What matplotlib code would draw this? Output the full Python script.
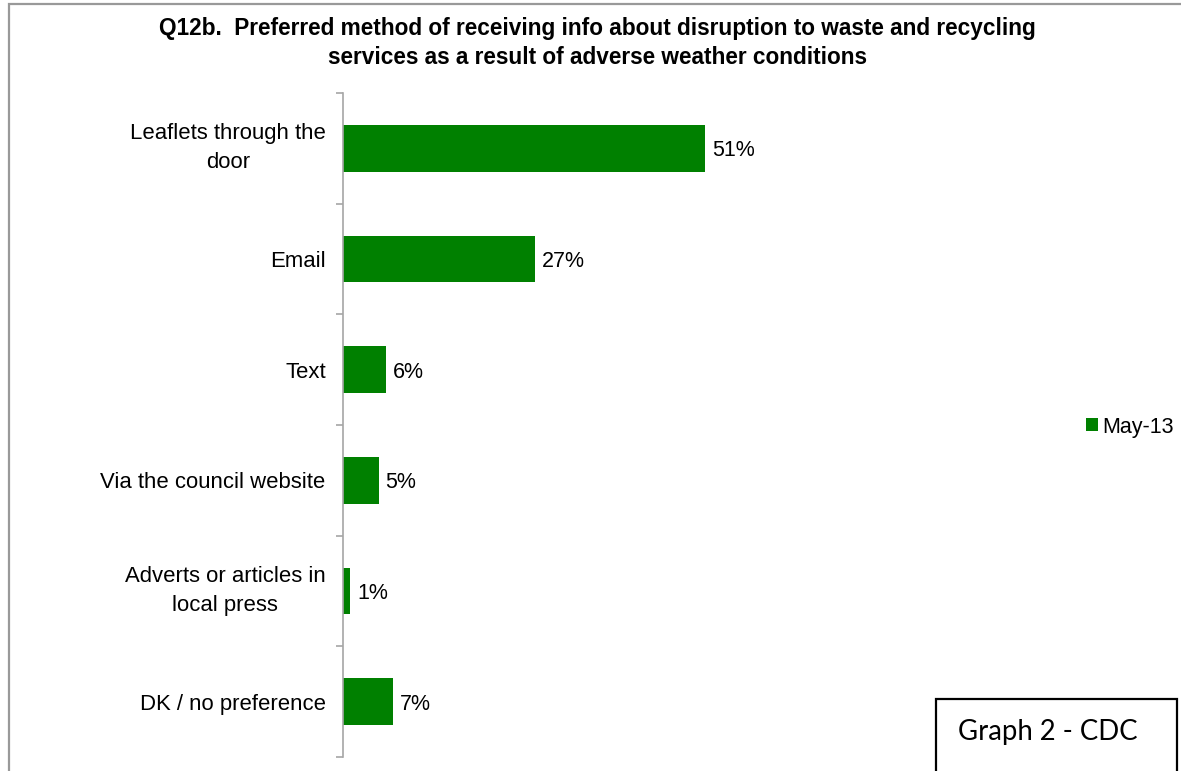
import matplotlib
matplotlib.use("Agg")
import matplotlib.pyplot as plt
from matplotlib.patches import Rectangle

categories = ["Leaflets through the\ndoor", "Email", "Text", "Via the council website",
              "Adverts or articles in\nlocal press", "DK / no preference"]
values = [51, 27, 6, 5, 1, 7]
series_name = "May-13"
title = "Q12b.  Preferred method of receiving info about disruption to waste and recycling\nservices as a result of adverse weather conditions"

W, H = 1181, 771
fig = plt.figure(figsize=(W / 100, H / 100), dpi=100)
plt.rcParams['font.family'] = ['Liberation Sans', 'DejaVu Sans']

green = "#008000"
grey = "#a6a6a6"

ax = fig.add_axes([343 / W, 1 - 757 / H, (1053 - 343) / W, (757 - 93) / H])
y = list(range(len(categories)))
bars = ax.barh(y, values, height=0.42, color=green, label=series_name)
ax.set_xlim(0, 100)
ax.set_ylim(len(categories) - 0.5, -0.5)

for spine in ["top", "right", "bottom"]:
    ax.spines[spine].set_visible(False)
ax.spines["left"].set_color(grey)
ax.spines["left"].set_linewidth(1.2)
ax.set_xticks([])
ax.set_yticks(y)
ax.set_yticklabels(categories, fontsize=15.9, ha="right", multialignment="center", linespacing=1.5)
for lbl in ax.get_yticklabels():
    if "\n" in lbl.get_text():
        lbl.set_va("center")
ax.tick_params(axis="y", which="major", length=0, pad=12.5)
ax.set_yticks([i - 0.5 for i in range(len(categories) + 1)], minor=True)
ax.tick_params(axis="y", which="minor", length=5, width=1.2, color=grey, direction="out")

for b, v in zip(bars, values):
    ax.text(b.get_width() + 1, b.get_y() + b.get_height() / 2, f"{v}%",
            va="center_baseline", ha="left", fontsize=15.5)

fig.text(597 / W, 1 - 43 / H, title, ha="center", va="center", fontsize=16.3,
         fontweight="bold", linespacing=1.3)

leg = fig.legend(handles=[bars], labels=[series_name], loc="center left",
                 bbox_to_anchor=(1075 / W, 1 - 427 / H), frameon=False, fontsize=15.5,
                 handlelength=0.55, handleheight=0.55, handletextpad=0.2, borderpad=0)

# figure border (left/top visible)
fig.patches.append(Rectangle((8.5 / W, -0.1), 2, 1.1 - 4.5 / H, transform=fig.transFigure,
                             fill=False, edgecolor="#999999", linewidth=1.6))
# Graph label box
fig.patches.append(Rectangle((936 / W, -0.1), (1177 - 936) / W, 0.1 + (771 - 699) / H,
                             transform=fig.transFigure, fill=False, edgecolor="black",
                             linewidth=1.6))
fig.text(1048 / W, 1 - 732 / H, "Graph 2 - CDC", ha="center", va="center",
         fontsize=19.8, family=["Lato", "DejaVu Sans"])

fig.savefig("out.png", dpi=100)
